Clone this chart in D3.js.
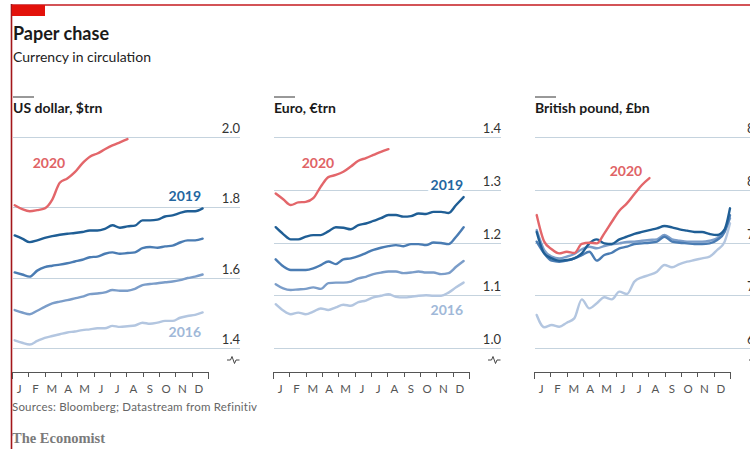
<!DOCTYPE html>
<html>
<head>
<meta charset="utf-8">
<script src="https://cdn.jsdelivr.net/npm/d3@7"></script>
<style>
  html, body { margin: 0; padding: 0; background: #fff; overflow: hidden; }
  svg { display: block; font-family: Lato, "Noto Sans", sans-serif; }
</style>
</head>
<body>
<svg id="chart" width="750" height="449"></svg>
<script>
// ---------------- DATA ----------------
const months = ["J","F","M","A","M","J","J","A","S","O","N","D"];
// day-of-year for each observation (fortnightly)
const days = [5,19,33,47,61,75,89,103,117,131,145,159,173,187,201,215,229,243,257,271,285,299,313,327,341,355];
const daysPound = [5,19,33,47,61,75,89,103,117,131,145,159,173,187,201,215,229,243,257,271,285,299,313,327,341,355,365];
const years = ["2016","2017","2018","2019","2020"];

// US dollar, $trn
const usTicks = [1.4, 1.6, 1.8, 2.0];
const us2016 = [1.422,1.415,1.410,1.420,1.429,1.434,1.439,1.444,1.447,1.451,1.453,1.456,1.456,1.463,1.460,1.462,1.464,1.472,1.469,1.472,1.477,1.477,1.486,1.491,1.494,1.501];
const us2017 = [1.508,1.501,1.496,1.506,1.517,1.527,1.532,1.536,1.541,1.546,1.553,1.555,1.558,1.565,1.563,1.563,1.568,1.579,1.582,1.584,1.587,1.589,1.593,1.599,1.603,1.609];
const us2018 = [1.615,1.609,1.603,1.620,1.630,1.634,1.637,1.641,1.646,1.651,1.658,1.660,1.668,1.672,1.668,1.670,1.672,1.684,1.687,1.685,1.689,1.691,1.700,1.706,1.706,1.711];
const us2019 = [1.720,1.711,1.701,1.706,1.713,1.718,1.722,1.725,1.727,1.730,1.734,1.734,1.739,1.749,1.742,1.746,1.748,1.763,1.763,1.765,1.774,1.777,1.784,1.789,1.789,1.797];
const us2020 = [1.806,1.795,1.789,1.792,1.797,1.822,1.870,1.882,1.900,1.925,1.944,1.953,1.965,1.976,1.985,1.994];

// Euro, €trn
const euTicks = [1.0, 1.1, 1.2, 1.3, 1.4];
const eu2016 = [1.083,1.071,1.064,1.067,1.064,1.069,1.075,1.072,1.077,1.082,1.080,1.087,1.090,1.096,1.099,1.102,1.097,1.096,1.097,1.099,1.100,1.099,1.099,1.105,1.115,1.124];
const eu2017 = [1.121,1.113,1.110,1.111,1.112,1.115,1.112,1.123,1.124,1.124,1.126,1.132,1.135,1.140,1.143,1.145,1.145,1.142,1.143,1.145,1.143,1.143,1.140,1.142,1.154,1.165];
const eu2018 = [1.168,1.155,1.148,1.148,1.148,1.151,1.157,1.164,1.159,1.168,1.170,1.174,1.180,1.186,1.190,1.193,1.195,1.193,1.197,1.197,1.195,1.200,1.199,1.197,1.211,1.229];
const eu2019 = [1.229,1.216,1.206,1.206,1.211,1.214,1.214,1.221,1.229,1.228,1.225,1.233,1.236,1.241,1.246,1.252,1.252,1.249,1.250,1.255,1.254,1.258,1.258,1.256,1.271,1.286];
const eu2020 = [1.293,1.282,1.271,1.276,1.277,1.284,1.306,1.324,1.328,1.334,1.344,1.355,1.360,1.366,1.372,1.377];

// British pound, £bn
const gbTicks = [65, 70, 75, 80, 85];
const gb2016 = [68.13,66.96,67.18,67.02,67.4,67.81,69.61,68.76,69.24,69.81,69.61,70.34,70.12,71.29,71.7,71.92,72.23,72.87,72.65,72.96,73.18,73.34,73.5,73.66,74.29,75.08,76.82];
const gb2017 = [76.18,74.29,73.66,73.5,73.66,73.91,74.36,74.6,74.45,74.67,74.83,74.92,75.05,75.08,75.17,75.24,75.3,75.71,75.3,75.17,75.08,75.08,75.08,75.17,75.4,76.18,77.3];
const gb2018 = [75.08,73.97,73.28,73.18,73.28,73.5,73.81,74.13,73.28,73.81,74.03,74.45,74.6,74.86,74.92,74.98,75.08,75.55,75.08,74.98,74.92,74.86,74.86,74.92,75.24,76.0,77.6];
const gb2019 = [76.0,73.97,73.5,73.28,73.34,73.5,73.97,74.92,75.3,74.92,74.86,75.3,75.55,75.81,76.0,76.18,76.34,76.56,76.44,76.25,76.12,76.0,76.0,75.81,75.71,76.25,78.24];
const gb2020 = [77.6,75.08,74.36,73.97,74.13,74.0,74.86,74.98,74.92,75.87,76.97,78.02,78.71,79.6,80.45,81.1];

// ---------------- STYLE ----------------
const colors = {"2016":"#b3c6e0","2017":"#7b9dc9","2018":"#4a7cb3","2019":"#1f5e95","2020":"#e3666a"};
const labelColors = {"2016":"#a0b8d8","2019":"#2466a0","2020":"#e06366"};

const panels = [
  { title: "US dollar, $trn", x0: 12, ticks: usTicks, fmt: d3.format(".1f"), d: days,
    series: {"2016":us2016,"2017":us2017,"2018":us2018,"2019":us2019,"2020":us2020},
    labels: [ {y:"2020", x: 49, y0: 168, anchor:"middle"}, {y:"2019", x: 201, y0: 201, anchor:"end"}, {y:"2016", x: 201, y0: 337, anchor:"end"} ] },
  { title: "Euro, €trn", x0: 273, ticks: euTicks, fmt: d3.format(".1f"), d: days,
    series: {"2016":eu2016,"2017":eu2017,"2018":eu2018,"2019":eu2019,"2020":eu2020},
    labels: [ {y:"2020", x: 318, y0: 168, anchor:"middle"}, {y:"2019", x: 463, y0: 190, anchor:"end"}, {y:"2016", x: 463, y0: 315, anchor:"end"} ] },
  { title: "British pound, £bn", x0: 534, ticks: gbTicks, fmt: d3.format("d"), d: daysPound,
    series: {"2016":gb2016,"2017":gb2017,"2018":gb2018,"2019":gb2019,"2020":gb2020},
    labels: [ {y:"2020", x: 626, y0: 176, anchor:"middle"} ] }
];

const svg = d3.select("#chart");

// frame
svg.append("line").attr("x1", 11).attr("x2", 750).attr("y1", 5).attr("y2", 5)
  .attr("stroke", "#c41a1f").attr("stroke-width", 1.5);
svg.append("line").attr("x1", 11.5).attr("x2", 11.5).attr("y1", 4).attr("y2", 449)
  .attr("stroke", "#a3161a").attr("stroke-width", 1.6);
svg.append("rect").attr("x", 12).attr("y", 5).attr("width", 33).attr("height", 11).attr("fill", "#e3120b");

// titles
svg.append("text").attr("x", 13).attr("y", 40).text("Paper chase")
  .attr("font-size", 18).attr("font-weight", 700).attr("fill", "#1a1a1a");
svg.append("text").attr("x", 13).attr("y", 62).text("Currency in circulation")
  .attr("font-size", 14).attr("fill", "#222");

const axisW = 196, gridW = 228;
const yTop = 137, yBot = 348;

panels.forEach(p => {
  const g = svg.append("g");
  // panel header
  g.append("line").attr("x1", p.x0 + 1).attr("x2", p.x0 + 22).attr("y1", 97).attr("y2", 97)
    .attr("stroke", "#333").attr("stroke-width", 1);
  g.append("text").attr("x", p.x0 + 1).attr("y", 113).text(p.title)
    .attr("font-size", 14).attr("font-weight", 700).attr("fill", "#1a1a1a");

  const x = d3.scaleLinear().domain([0, 365]).range([p.x0, p.x0 + axisW]);
  const y = d3.scaleLinear().domain([d3.min(p.ticks), d3.max(p.ticks)]).range([yBot, yTop]);

  // gridlines + tick labels
  const right = p.x0 + gridW;
  g.selectAll(".grid").data(p.ticks).join("line")
    .attr("x1", p.x0 + 1).attr("x2", right)
    .attr("y1", d => Math.round(y(d)) + 0.5).attr("y2", d => Math.round(y(d)) + 0.5)
    .attr("stroke", "#c5d3de").attr("stroke-width", 1.2);
  g.selectAll(".tl").data(p.ticks).join("text")
    .attr("x", right).attr("y", d => y(d) - 4)
    .attr("text-anchor", "end").attr("font-size", 13).attr("fill", "#333")
    .text(d => p.fmt(d));

  // break symbol
  g.append("path")
    .attr("d", `M${right - 13},360 h3.5 l1.5,-3.5 l2.5,7 l1.5,-3.5 h3.5`)
    .attr("fill", "none").attr("stroke", "#444").attr("stroke-width", 1);

  // year labels (with white halo to cut gridlines)
  p.labels.forEach(l => {
    g.append("text").attr("x", l.x).attr("y", l.y0).attr("text-anchor", l.anchor)
      .attr("font-size", 14).attr("font-weight", 700)
      .attr("fill", labelColors[l.y]).attr("stroke", "#fff").attr("stroke-width", 6)
      .attr("paint-order", "stroke").attr("stroke-linejoin", "round")
      .text(l.y);
  });

  // lines
  const line = d3.line().x(d => x(d[0])).y(d => y(d[1])).curve(d3.curveMonotoneX);
  years.forEach(yr => {
    const vals = p.series[yr];
    const pts = vals.map((v, i) => [p.d[i], v]);
    g.append("path").datum(pts).attr("d", line)
      .attr("fill", "none").attr("stroke", colors[yr]).attr("stroke-width", 2.4)
      .attr("stroke-linejoin", "round").attr("stroke-linecap", "round");
  });

  // x axis
  const axY = 372;
  const tickPos = d3.range(0, 13).map(i => i * 365 / 12);
  g.append("line").attr("x1", x(0)).attr("x2", x(365)).attr("y1", axY + 0.5).attr("y2", axY + 0.5)
    .attr("stroke", "#555").attr("stroke-width", 1);
  g.selectAll(".tk").data(tickPos).join("line")
    .attr("x1", d => Math.round(x(d)) + 0.5).attr("x2", d => Math.round(x(d)) + 0.5)
    .attr("y1", axY).attr("y2", (d, i) => (i === 0 || i === 12) ? axY + 7 : axY + 5)
    .attr("stroke", "#555").attr("stroke-width", 1);
  g.selectAll(".ml").data(months).join("text")
    .attr("x", (d, i) => x((i + 0.5) * 365 / 12) - 1).attr("y", 393)
    .attr("text-anchor", "middle").attr("font-size", 11.5).attr("fill", "#555")
    .text(d => d);
});

// footer
svg.append("text").attr("x", 12).attr("y", 411).text("Sources: Bloomberg; Datastream from Refinitiv")
  .attr("font-size", 11.5).attr("fill", "#666").attr("letter-spacing", 0.2);
svg.append("text").attr("x", 12).attr("y", 443).text("The Economist")
  .attr("font-family", "'Liberation Serif', 'DejaVu Serif', serif")
  .attr("font-size", 14.5).attr("font-weight", 700).attr("fill", "#7a7a7a");
</script>
</body>
</html>
